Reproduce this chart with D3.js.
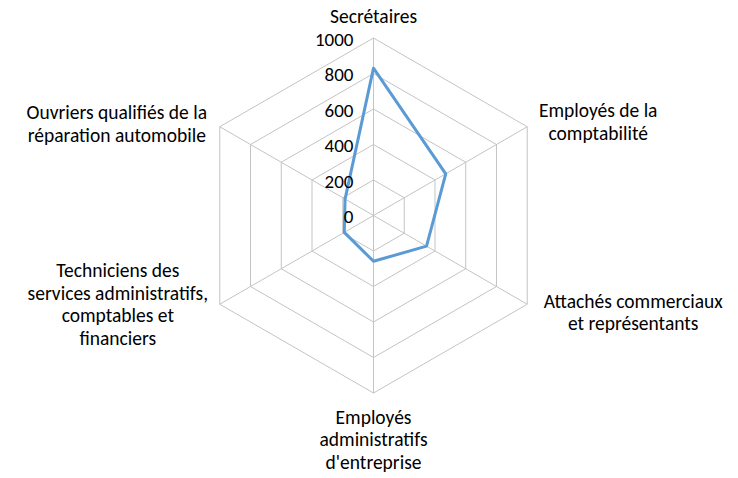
<!DOCTYPE html>
<html>
<head>
<meta charset="utf-8">
<script src="https://cdn.jsdelivr.net/npm/d3@7"></script>
<style>
  body { margin: 0; background: #fff; }
  svg text { font-family: Calibri, Carlito, Lato, "Liberation Sans", sans-serif; fill: #000; }
</style>
</head>
<body>
<div id="chart"></div>
<script>
// données
const metiers = [
  ["Secrétaires"],
  ["Employés de la", "comptabilité"],
  ["Attachés commerciaux", "et représentants"],
  ["Employés", "administratifs", "d'entreprise"],
  ["Techniciens des", "services administratifs,", "comptables et", "financiers"],
  ["Ouvriers qualifiés de la", "réparation automobile"]
];
const effectifs = [830, 470, 345, 258, 190, 185];
const graduations = [0, 200, 400, 600, 800, 1000];

// dimensions
const width = 738, height = 478;
const cx = 373.5, cy = 215.5, rayon = 177.5;

const svg = d3.select("#chart").append("svg")
  .attr("width", width)
  .attr("height", height);

const g = svg.append("g").attr("transform", `translate(${cx},${cy})`);

const r = d3.scaleLinear().domain([0, 1000]).range([0, rayon]);
const angle = d3.scaleLinear().domain([0, metiers.length]).range([0, 2 * Math.PI]);

const pt = (i, v) => [Math.sin(angle(i)) * r(v), -Math.cos(angle(i)) * r(v)];

// grille hexagonale
const ligne = d3.line();
graduations.slice(1).forEach(v => {
  const pts = metiers.map((d, i) => pt(i, v));
  g.append("path")
    .attr("d", ligne(pts) + "Z")
    .attr("fill", "none")
    .attr("stroke", "#c4c4c4")
    .attr("stroke-width", 1);
});

// axes
metiers.forEach((d, i) => {
  const [x, y] = pt(i, 1000);
  g.append("line")
    .attr("x1", 0).attr("y1", 0)
    .attr("x2", x).attr("y2", y)
    .attr("stroke", "#c4c4c4")
    .attr("stroke-width", 1);
});

// série
const serie = effectifs.map((v, i) => pt(i, v));
g.append("path")
  .attr("d", ligne(serie) + "Z")
  .attr("fill", "none")
  .attr("stroke", "#5B9BD5")
  .attr("stroke-width", 3)
  .attr("stroke-linejoin", "round");

// étiquettes des graduations
g.selectAll(".grad")
  .data(graduations)
  .join("text")
  .attr("class", "grad")
  .attr("x", -20)
  .attr("y", d => -r(d) + 1)
  .attr("dy", "0.35em")
  .attr("text-anchor", "end")
  .style("font-size", "19px")
  .text(d => d);

// étiquettes des catégories (décalage depuis le sommet)
const decalages = [[0, -22], [71, -5], [106, 8], [0, 46.5], [-102, 0], [-103, -3]];
const interligne = 22.5;

metiers.forEach((lignes, i) => {
  const [x, y] = pt(i, 1000);
  const bx = x + decalages[i][0];
  const by = y + decalages[i][1];
  const t = g.append("text")
    .attr("text-anchor", "middle")
    .style("font-size", "19.5px");
  lignes.forEach((l, k) => {
    t.append("tspan")
      .attr("x", bx)
      .attr("y", by + (k - (lignes.length - 1) / 2) * interligne)
      .attr("dy", "0.35em")
      .text(l);
  });
});
</script>
</body>
</html>
